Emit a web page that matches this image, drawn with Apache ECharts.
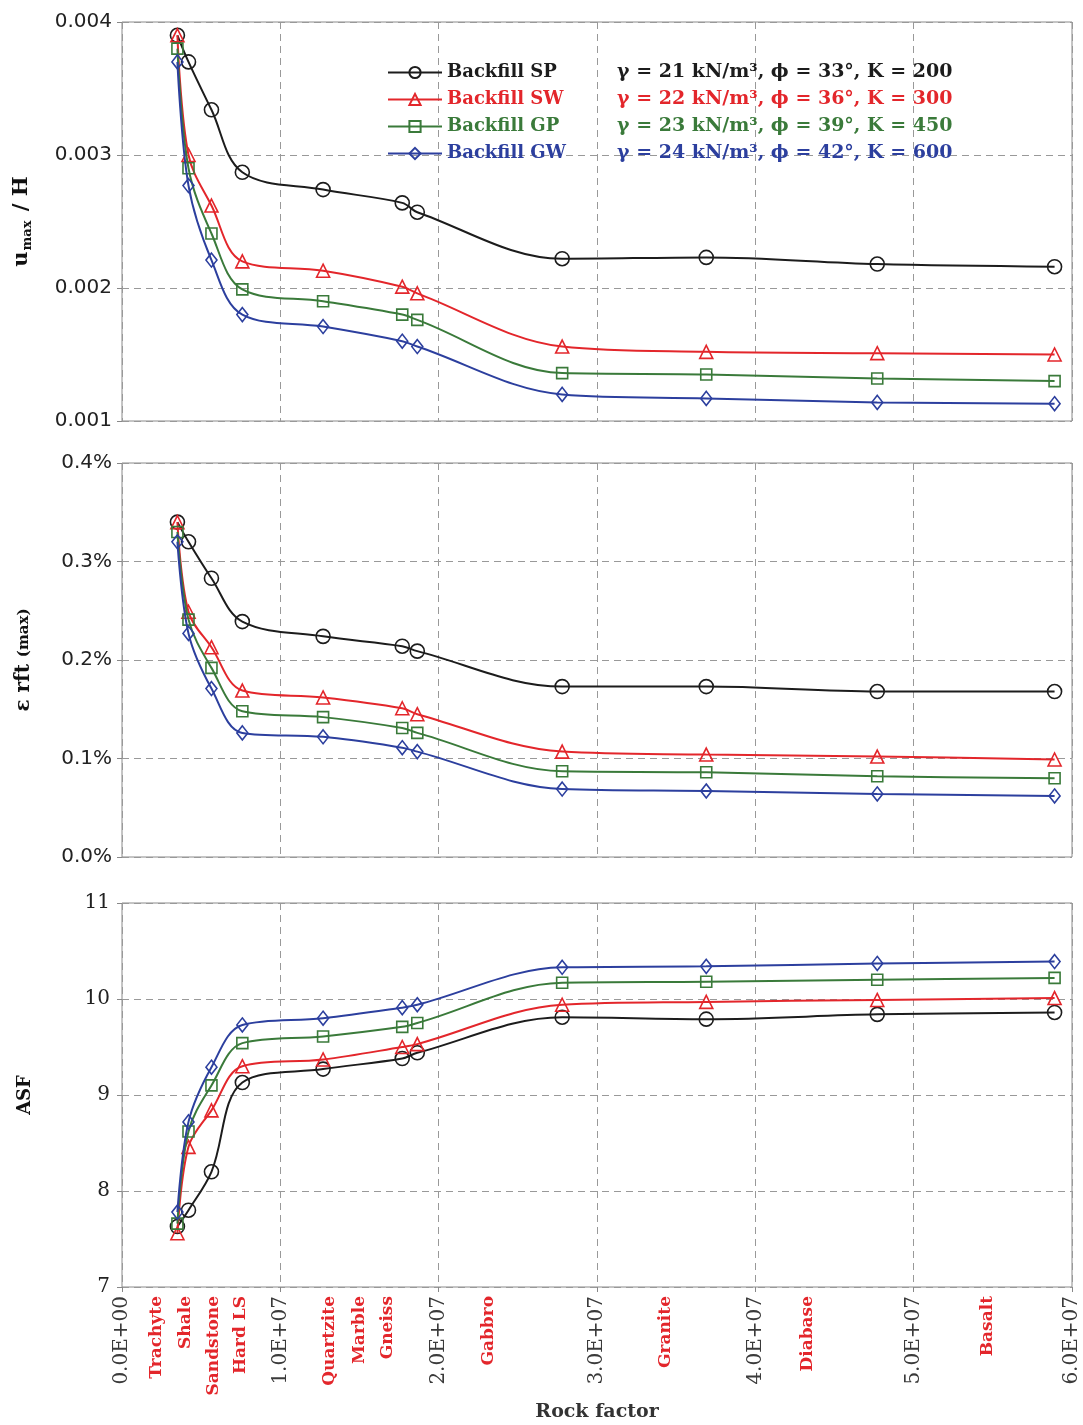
<!DOCTYPE html>
<html>
<head>
<meta charset="utf-8">
<script src="https://cdn.jsdelivr.net/npm/echarts@6/dist/echarts.min.js"></script>
<style>
  html, body { margin: 0; padding: 0; background: #ffffff; }
  #chart { width: 1083px; height: 1425px; }
</style>
</head>
<body>
<div id="chart"></div>
<script>
// Rock factor of each analysed rock type (x positions of all points)
const rockFactor = [0.35e7, 0.42e7, 0.565e7, 0.76e7, 1.27e7, 1.77e7, 1.865e7, 2.78e7, 3.69e7, 4.77e7, 5.89e7];

// Backfill types and their properties
const backfillNames = ['Backfill SP', 'Backfill SW', 'Backfill GP', 'Backfill GW'];
const backfillProps = [
  'γ = 21 kN/m³, ϕ = 33°, K = 200',
  'γ = 22 kN/m³, ϕ = 36°, K = 300',
  'γ = 23 kN/m³, ϕ = 39°, K = 450',
  'γ = 24 kN/m³, ϕ = 42°, K = 600'
];

// Maximum displacement ratio u_max / H
const umaxSP = [0.0039, 0.0037, 0.00334, 0.00287, 0.00274, 0.00264, 0.00257, 0.00222, 0.00223, 0.00218, 0.00216];
const umaxSW = [0.0039, 0.0030, 0.00262, 0.0022, 0.00213, 0.00201, 0.00196, 0.00156, 0.00152, 0.00151, 0.0015];
const umaxGP = [0.0038, 0.0029, 0.00241, 0.00199, 0.0019, 0.0018, 0.00176, 0.00136, 0.00135, 0.00132, 0.0013];
const umaxGW = [0.0037, 0.00277, 0.00221, 0.0018, 0.00171, 0.0016, 0.00156, 0.0012, 0.00117, 0.00114, 0.00113];

// Maximum reinforcement strain, in percent
const strainSP = [0.34, 0.32, 0.283, 0.239, 0.224, 0.214, 0.209, 0.173, 0.173, 0.168, 0.168];
const strainSW = [0.34, 0.249, 0.213, 0.169, 0.162, 0.151, 0.145, 0.107, 0.104, 0.102, 0.099];
const strainGP = [0.33, 0.241, 0.192, 0.148, 0.142, 0.131, 0.126, 0.087, 0.086, 0.082, 0.080];
const strainGW = [0.32, 0.227, 0.171, 0.126, 0.122, 0.111, 0.107, 0.069, 0.067, 0.064, 0.062];

// Average safety factor
const asfSP = [7.63, 7.8, 8.2, 9.13, 9.27, 9.38, 9.44, 9.81, 9.79, 9.84, 9.86];
const asfSW = [7.56, 8.46, 8.84, 9.3, 9.37, 9.5, 9.53, 9.94, 9.97, 9.99, 10.01];
const asfGP = [7.66, 8.62, 9.1, 9.54, 9.61, 9.71, 9.75, 10.17, 10.18, 10.2, 10.22];
const asfGW = [7.78, 8.72, 9.29, 9.73, 9.8, 9.91, 9.94, 10.33, 10.34, 10.37, 10.39];

// Rock names written under the rock factor axis, and where they sit on it
const rockNames = ['Trachyte', 'Shale', 'Sandstone', 'Hard LS', 'Quartzite', 'Marble', 'Gneiss', 'Gabbro', 'Granite', 'Diabase', 'Basalt'];
const rockLabelAt = [0.22e7, 0.404e7, 0.58e7, 0.752e7, 1.314e7, 1.503e7, 1.68e7, 2.318e7, 3.43e7, 4.333e7, 5.464e7];

const colors = ['#1c1c1c', '#e3262b', '#3a7a3a', '#2c3f9e'];
const symbols = ['circle', 'triangle', 'rect', 'diamond'];
const symbolSizes = [14, 13, 11, [11, 14]];

const SERIF = '"DejaVu Serif", serif';
const SANS = '"DejaVu Sans", sans-serif';

function sci(v) {
  if (v === 0) return '0.0E+00';
  const e = Math.floor(Math.log10(v) + 1e-9);
  return (v / Math.pow(10, e)).toFixed(1) + 'E+' + String(e).padStart(2, '0');
}

const grids = [
  { left: 122, right: 11, top: 22, height: 399 },
  { left: 122, right: 11, top: 463, height: 394 },
  { left: 122, right: 11, top: 903, height: 384 }
];

const gridLine = { lineStyle: { color: '#999999', width: 1, type: [7, 5] } };

function xAxisFor(i, withLabels) {
  return {
    type: 'value', gridIndex: i, min: 0, max: 6e7, interval: 1e7,
    axisLine: { show: false },
    axisTick: { show: withLabels, length: 5, lineStyle: { color: '#888' } },
    splitLine: Object.assign({ show: true }, gridLine),
    axisLabel: withLabels ? {
      show: true, rotate: 90, margin: 9, formatter: sci,
      fontFamily: SERIF, fontSize: 20, color: '#3a3a3a'
    } : { show: false },
    name: withLabels ? 'Rock factor' : '',
    nameLocation: 'middle', nameGap: 116,
    nameTextStyle: { fontFamily: SERIF, fontWeight: 'bold', fontSize: 19, color: '#333' }
  };
}

const yAxes = [
  {
    type: 'value', gridIndex: 0, min: 0.001, max: 0.004, interval: 0.001,
    axisLabel: { formatter: v => v.toFixed(3), fontFamily: SANS, fontSize: 20, color: '#222', margin: 10 },
    name: '{u|u}{s|max}{u| / H}', nameLocation: 'middle', nameGap: 88, nameRotate: 90,
    nameTextStyle: {
      rich: {
        u: { fontFamily: SERIF, fontWeight: 'bold', fontSize: 21, color: '#111', lineHeight: 24 },
        s: { fontFamily: SERIF, fontWeight: 'bold', fontSize: 13, color: '#111', lineHeight: 24, verticalAlign: 'bottom', padding: [9, 2, 0, 1] }
      }
    }
  },
  {
    type: 'value', gridIndex: 1, min: 0, max: 0.4, interval: 0.1,
    axisLabel: { formatter: v => v.toFixed(1) + '%', fontFamily: SANS, fontSize: 20, color: '#222', margin: 10 },
    name: '{a|ε rft }{b|(max)}', nameLocation: 'middle', nameGap: 88, nameRotate: 90,
    nameTextStyle: {
      rich: {
        a: { fontFamily: SERIF, fontWeight: 'bold', fontSize: 20, color: '#111' },
        b: { fontFamily: SERIF, fontWeight: 'bold', fontSize: 15, color: '#111' }
      }
    }
  },
  {
    type: 'value', gridIndex: 2, min: 7, max: 11, interval: 1,
    axisLabel: { fontFamily: SERIF, fontSize: 20, color: '#222', margin: 12 },
    name: 'ASF', nameLocation: 'middle', nameGap: 88, nameRotate: 90,
    nameTextStyle: { fontFamily: SERIF, fontWeight: 'bold', fontSize: 18, color: '#111' }
  }
].map(a => Object.assign({
  axisLine: { show: false },
  axisTick: { show: true, length: 5, lineStyle: { color: '#888' } },
  splitLine: Object.assign({ show: true }, gridLine)
}, a));

const xAxes = [xAxisFor(0, false), xAxisFor(1, false), xAxisFor(2, true)];
// Rock names along the bottom axis
xAxes.push({
  type: 'value', gridIndex: 2, min: 0, max: 6e7, position: 'bottom',
  axisLine: { show: false }, axisTick: { show: false }, splitLine: { show: false },
  axisLabel: {
    show: true, rotate: 90, margin: 9,
    customValues: rockLabelAt,
    formatter: (v) => rockNames[rockLabelAt.indexOf(v)] || '',
    fontFamily: SERIF, fontWeight: 'bold', fontSize: 17, color: '#e3262b'
  }
});

const panelData = [
  [umaxSP, umaxSW, umaxGP, umaxGW],
  [strainSP, strainSW, strainGP, strainGW],
  [asfSP, asfSW, asfGP, asfGW]
];

const series = [];
panelData.forEach((panel, g) => {
  panel.forEach((vals, k) => {
    series.push({
      type: 'line', name: backfillNames[k],
      xAxisIndex: g, yAxisIndex: g,
      data: rockFactor.map((x, j) => [x, vals[j]]),
      smooth: 0.35,
      symbol: symbols[k], symbolSize: symbolSizes[k],
      showAllSymbol: true,
      lineStyle: { color: colors[k], width: 2 },
      itemStyle: { color: 'rgba(255,255,255,0)', borderColor: colors[k], borderWidth: 1.6 },
      emphasis: { disabled: true },
      z: 3 + k
    });
  });
});

const chart = echarts.init(document.getElementById('chart'), null, { renderer: 'canvas' });
chart.setOption({
  backgroundColor: '#ffffff',
  animation: false,
  grid: grids.map(g => Object.assign({ show: true, borderColor: '#8a8a8a', borderWidth: 1, backgroundColor: 'transparent' }, g)),
  xAxis: xAxes,
  yAxis: yAxes,
  legend: {
    orient: 'vertical', left: 382, top: 58,
    itemWidth: 54, itemHeight: 14, itemGap: 8,
    data: backfillNames.map((n, i) => ({ name: n, textStyle: { color: colors[i] } })),
    formatter: name => '{n|' + name + '}{p|' + backfillProps[backfillNames.indexOf(name)] + '}',
    textStyle: {
      fontFamily: SERIF, fontWeight: 'bold', fontSize: 18,
      rich: {
        n: { fontFamily: SERIF, fontWeight: 'bold', fontSize: 18, width: 170, lineHeight: 23 },
        p: { fontFamily: SERIF, fontWeight: 'bold', fontSize: 19, lineHeight: 23 }
      }
    }
  },
  series: series
});
</script>
</body>
</html>
